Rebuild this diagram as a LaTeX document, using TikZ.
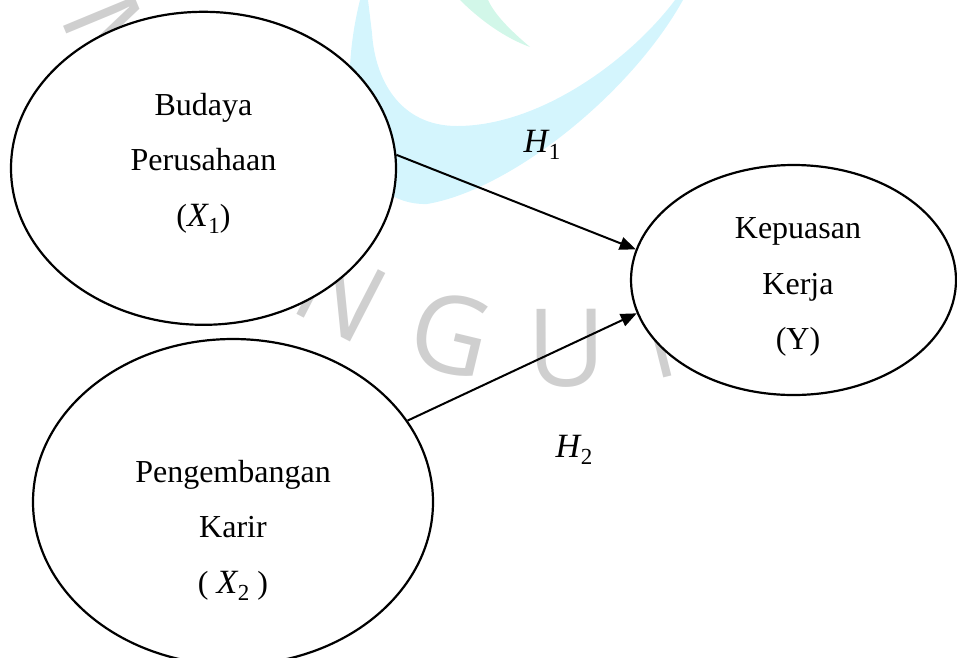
\documentclass[tikz,border=0pt]{standalone}
\usepackage{fontspec}
\setmainfont{Liberation Serif}
\newfontfamily\wmfont{Open Sans}
\usetikzlibrary{shapes.geometric,arrows.meta}
\definecolor{wmgrey}{RGB}{207,207,207}
\definecolor{wmcyan}{RGB}{212,245,253}
\definecolor{wmgreen}{RGB}{210,247,233}
% italic variable with an upright, lowered index
\newcommand\varsym[2]{{\fontsize{34}{34}\selectfont\itshape #1}\kern0.5pt\raisebox{-0.22em}{\fontsize{23}{23}\selectfont #2}}
\begin{document}
\begin{tikzpicture}[x=1pt,y=-1pt,
  varell/.style={ellipse, draw=black, line width=2.2pt, fill=white, inner sep=0pt},
  lbl/.style={font=\fontsize{32}{55.5}\selectfont, align=center, inner sep=0pt},
  hyp/.style={font=\fontsize{32}{38}\selectfont, inner sep=0pt},
  link/.style={line width=2pt, -{Triangle[length=16pt,width=13pt]}},
  wmletter/.style={font=\wmfont\fontsize{108}{108}\selectfont, text=wmgrey, inner sep=0pt}]
\useasboundingbox (0,0) rectangle (957,657);
\clip (0,0) rectangle (957,657);

% background logo watermark
\fill[wmcyan] (360,0) .. controls (350,40) and (345,90) .. (355,140)
  .. controls (365,185) and (395,205) .. (427,204)
  .. controls (510,190) and (630,95) .. (683,0) -- (675,0)
  .. controls (630,60) and (540,126) .. (457,126)
  .. controls (400,126) and (375,80) .. (372,33) -- (368,0) -- cycle;
\fill[wmgreen] (460,0) .. controls (480,20) and (505,38) .. (530,47)
  .. controls (510,30) and (495,15) .. (488,0) -- cycle;
\foreach \ch/\ang [count=\i] in {M/67.5,N/27.3,G/13.5,U/-0.2,N/-14.1}
  \node[wmletter, rotate={0-(\ang)}] (wm\i) at ({565-488*sin(\ang)},{-140+488*cos(\ang)}) {\ch};

% latent variables
\node[varell, minimum width=385pt, minimum height=313pt] (x1) at (203.5,168.3) {};
\node[varell, minimum width=400pt, minimum height=326pt] (x2) at (233,502) {};
\node[varell, minimum width=325pt, minimum height=230pt] (y) at (793.5,280) {};

% hypothesised paths
\draw[link] (x1.4.5) -- (y.169);
\draw[link] (x2.25.7) -- (y.192.2);

% texts
\node[lbl] (t1) at (203.5,163.4) {Budaya\\Perusahaan\\(\varsym{X}{1})};
\node[lbl] (t2) at (233,530.4) {Pengembangan\\Karir\\( \varsym{X}{2} )};
\node[lbl] (t3) at (798,287) {Kepuasan\\Kerja\\(Y)};
\node[hyp] (h1) at (542,145) {\varsym{H}{1}};
\node[hyp] (h2) at (574,450) {\varsym{H}{2}};
\end{tikzpicture}
\end{document}
